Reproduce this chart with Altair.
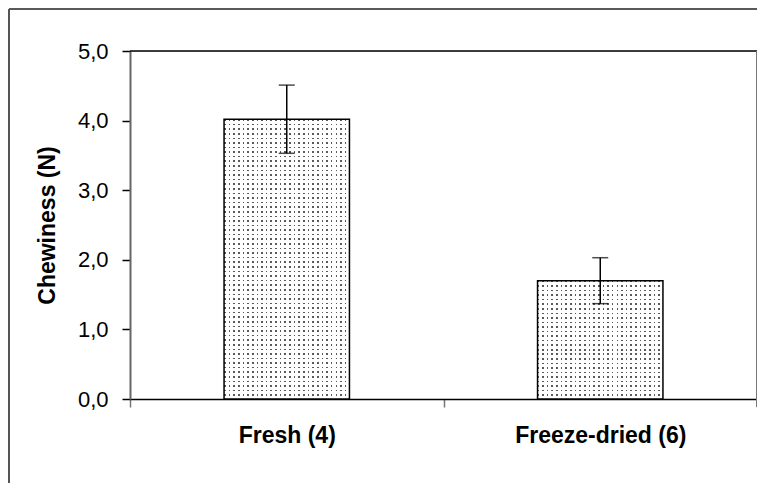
import altair as alt
import pandas as pd

categories = ["Fresh (4)", "Freeze-dried (6)"]
means = [4.02, 1.70]
errors = [0.49, 0.33]
y_ticks = [0, 1, 2, 3, 4, 5]

df = pd.DataFrame({"cat": categories, "mean": means, "err": errors})
df["lo"] = df["mean"] - df["err"]
df["hi"] = df["mean"] + df["err"]

W, H = 627, 348
FONT = "Liberation Sans"
BAND = 0.4
YMAX = 5.0

# --- dotted texture (style only): two layers of white stripes over a dark fill
PERIOD = 4.6
DOT = 1.6
CLEAR = "rgba(255,255,255,0)"


def stripes(length_px, horizontal):
    n = max(1, round(length_px / PERIOD))
    stops = []
    for k in range(n):
        a = k / n
        b = (k + DOT / PERIOD) / n
        c = (k + 1) / n
        stops += [{"offset": a, "color": CLEAR}, {"offset": b, "color": CLEAR},
                  {"offset": b, "color": "white"}, {"offset": c, "color": "white"}]
    g = {"gradient": "linear", "stops": stops}
    if horizontal:
        g.update({"x1": 0, "y1": 0, "x2": 0, "y2": 1})
    else:
        g.update({"x1": 0, "y1": 0, "x2": 1, "y2": 0})
    return g


bar_w_px = W / len(categories) * BAND
v_grad = stripes(bar_w_px, horizontal=False)
h_grads = [stripes(m / YMAX * H, horizontal=True) for m in means]

x_enc = alt.X("cat:N", sort=categories, title=None,
              scale=alt.Scale(paddingInner=0, paddingOuter=0),
              axis=alt.Axis(labelAngle=0, tickBand="extent", domainColor="black",
                            tickColor="#777777", tickSize=8, tickWidth=1.5,
                            domainWidth=1.5, labelFont=FONT, labelFontSize=23,
                            labelFontWeight="bold", labelColor="black",
                            labelPadding=17))
y_scale = alt.Scale(domain=[0, YMAX], nice=False)
y_axis = alt.Axis(values=y_ticks, grid=False, domainColor="#666666", domainWidth=2,
                  tickColor="black", tickSize=8, tickWidth=1.5,
                  labelExpr="replace(format(datum.value, '.1f'), '.', ',')",
                  labelFont=FONT, labelFontSize=22, labelColor="black",
                  labelPadding=14, title="Chewiness (N)", titleFont=FONT,
                  titleFontSize=23, titleFontWeight="bold", titleColor="black",
                  titlePadding=18)

base = alt.Chart(df)
xs = alt.X("cat:N", sort=categories)

bars_dark = base.mark_bar(fill="#5a5a5a", width=alt.RelativeBandSize(BAND)).encode(
    x=x_enc, y=alt.Y("mean:Q", scale=y_scale, axis=y_axis))
bars_v = base.mark_bar(fill=v_grad, width=alt.RelativeBandSize(BAND)).encode(
    x=xs, y="mean:Q")
bars_h = base.mark_bar(stroke="black", strokeWidth=1.5,
                       width=alt.RelativeBandSize(BAND)).encode(
    x=xs, y="mean:Q",
    fill=alt.condition(f"datum.cat == '{categories[0]}'",
                       alt.value(h_grads[0]), alt.value(h_grads[1])))

err = base.mark_rule(color="black", strokeWidth=1.5).encode(
    x=xs, y="lo:Q", y2="hi:Q")
cap_lo = base.mark_tick(color="black", thickness=1.5, size=16).encode(x=xs, y="lo:Q")
cap_hi = base.mark_tick(color="black", thickness=1.5, size=16).encode(x=xs, y="hi:Q")

one = alt.Data(values=[{"k": 0}])
deco = alt.Chart(one)
top_plot = deco.mark_rule(color="black", strokeWidth=1.5).encode(
    x=alt.value(0), x2=alt.value(W), y=alt.value(0))
right_plot = deco.mark_rule(color="#777777", strokeWidth=2).encode(
    x=alt.value(W), y=alt.value(0), y2=alt.value(H + 8))
frame_top = deco.mark_rule(color="#222222", strokeWidth=1.5).encode(
    x=alt.value(-121), x2=alt.value(W + 5), y=alt.value(-42))
frame_left = deco.mark_rule(color="#555555", strokeWidth=2).encode(
    x=alt.value(-121), y=alt.value(-42), y2=alt.value(440))

chart = alt.layer(bars_dark, bars_v, bars_h, err, cap_lo, cap_hi, top_plot,
                  right_plot, frame_top, frame_left).properties(
    width=W, height=H,
    autosize=alt.AutoSizeParams(type="none"),
    padding={"left": 122, "top": 43, "right": 0, "bottom": 84},
).configure_view(stroke=None).configure(background="white")

chart.save("out.html", embed_options={"renderer": "svg", "actions": False})
